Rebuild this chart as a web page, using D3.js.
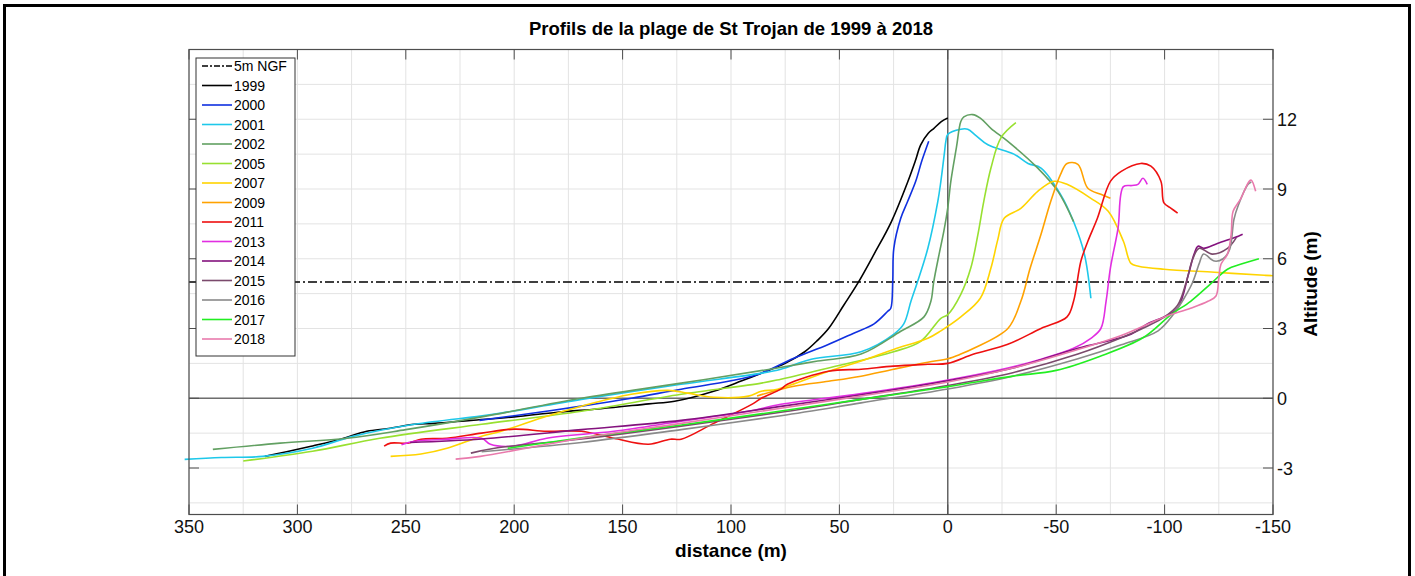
<!DOCTYPE html>
<html>
<head>
<meta charset="utf-8">
<script src="https://cdn.jsdelivr.net/npm/d3@7"></script>
<style>
  body { margin: 0; background: #fff; }
  svg { font-family: "Liberation Sans", Arial, sans-serif; }
  .grid-line { stroke: #e3e3e3; stroke-width: 1; }
  .tick-label { font-size: 18px; fill: #111; }
  .axis-title { font-size: 19px; font-weight: bold; fill: #000; }
  .chart-title { font-size: 18.5px; font-weight: bold; fill: #000; }
  .legend-text { font-size: 14px; fill: #000; }
</style>
</head>
<body>
<div id="wrapper"></div>
<script>
// data: [distance (m), altitude (m)]
const years = ["1999", "2000", "2001", "2002", "2005", "2007", "2009", "2011", "2013", "2014", "2015", "2016", "2017", "2018"]

const profile1999 = [[315,-2.5],[305,-2.3],[293,-2.05],[280,-1.76],[268,-1.42],[258,-1.3],[246,-1.12],[237,-1.08],[220,-0.95],[200,-0.8],[180,-0.6],[160,-0.45],[138,-0.24],[126,-0.13],[108,0.3],[95,0.75],[86,1.08],[75,1.5],[66,2.0],[60,2.5],[55,3.0],[48,4.0],[41.5,4.95],[34,6.2],[26,7.6],[18.5,9.3],[15,10.2],[12.5,10.9],[9,11.4],[6.5,11.6],[3,11.9],[0,12.05]]
const profile2000 = [[216,-0.95],[200,-0.75],[169,-0.34],[146,0.0],[123,0.39],[100,0.75],[86,1.08],[71,1.72],[55.4,2.3],[43.4,2.8],[34,3.2],[27.7,3.74],[26.3,3.87],[25.4,5.03],[24.9,6.45],[21.7,7.74],[18.5,8.47],[14.8,9.33],[12,10.2],[8.8,11.05]]
const profile2001 = [[352,-2.63],[335,-2.55],[316,-2.5],[293,-2.15],[274,-1.63],[246,-1.12],[215.6,-0.77],[206,-0.64],[169,-0.05],[123,0.6],[86,1.08],[77,1.25],[63,1.68],[40,2.0],[25,2.75],[20.3,3.2],[17,4.17],[14,5.0],[9.2,6.45],[4.6,8.47],[3.2,9.33],[1.5,10.6],[0.9,11.05],[0,11.35],[-6,11.57],[-9.2,11.57],[-13,11.3],[-18.5,10.9],[-30.5,10.5],[-37,10.1],[-43,9.9],[-52,8.77],[-58,7.6],[-63,6.2],[-66,4.3]]
const profile2002 = [[339,-2.2],[308,-1.93],[277,-1.72],[250,-1.35],[215,-0.8],[169,0.0],[123,0.65],[82,1.25],[60,1.6],[40,1.9],[21.7,2.88],[11,3.5],[7.8,4.17],[6.5,5.0],[4,6.2],[1.8,7.2],[0,8.2],[-1.4,9.33],[-4,10.8],[-6,11.9],[-7.4,12.1],[-11.5,12.2],[-15,12.05],[-20,11.6],[-27.7,11.05],[-41.5,9.9],[-50.8,8.9],[-58,7.6]]
const profile2005 = [[325,-2.7],[293,-2.28],[262,-1.72],[215,-1.12],[169,-0.56],[123,0.17],[86,0.65],[77,0.82],[55,1.3],[25,2.0],[12.5,2.45],[3.2,3.44],[0,3.6],[-6,4.47],[-10.6,5.6],[-13.9,7.05],[-16.6,8.47],[-19.9,9.9],[-24.5,11.2],[-31.4,11.85]]
const profile2007 = [[257,-2.5],[243,-2.4],[231,-2.15],[215,-1.63],[206,-1.42],[185,-0.77],[169,-0.34],[146,0.17],[129,0.34],[120,0.22],[108,0.04],[92,0.09],[86,0.3],[78.5,0.39],[55,1.16],[40,1.6],[25,2.1],[9.2,2.58],[3.2,2.9],[-6,3.5],[-15,4.3],[-19.9,5.6],[-23,6.8],[-26,7.74],[-33.7,8.17],[-41.5,8.9],[-49,9.33],[-55,9.2],[-66,8.6],[-74,8.04],[-81,6.75],[-84.5,5.8],[-88,5.68],[-99.7,5.55],[-123,5.42],[-146,5.29],[-150,5.27]]
const profile2009 = [[88,0.1],[71,0.52],[55,0.73],[40,0.95],[25,1.25],[9.2,1.55],[0,1.7],[-6,1.9],[-12,2.15],[-27.7,3.0],[-33.7,4.17],[-38,5.6],[-43,7.05],[-47.5,8.47],[-52,9.63],[-55,10.1],[-60,10.06],[-64.6,9.03],[-70.6,8.77],[-75,8.6]]
const profile2011 = [[260,-2.06],[257,-1.93],[249,-1.93],[243,-1.76],[231,-1.72],[215,-1.5],[200,-1.33],[185,-1.42],[169,-1.42],[154,-1.72],[138,-1.98],[128,-1.76],[123,-1.76],[108,-1.08],[89.6,-0.22],[86,0.0],[77,0.39],[74,0.6],[55,1.16],[40,1.25],[25,1.38],[9.2,1.46],[0,1.5],[-12,1.9],[-27.7,2.32],[-43,3.0],[-55,3.5],[-58,4.17],[-61.4,5.9],[-64.6,6.75],[-69,7.74],[-75,9.33],[-80,9.76],[-89,10.1],[-93.7,9.98],[-98.3,9.33],[-99.7,8.4],[-103,8.17],[-106,7.96]]
const profile2013 = [[252,-2.0],[246,-1.85],[231,-1.76],[215,-1.72],[211,-1.98],[200,-2.06],[185,-1.72],[154,-1.42],[123,-0.99],[92,-0.56],[77,-0.26],[40,0.2],[3.2,0.73],[-27.7,1.3],[-43,1.68],[-58,2.15],[-66,2.58],[-70.6,3.0],[-73,4.17],[-75,5.6],[-78.5,7.3],[-81,9.1],[-85,9.15],[-87.7,9.2],[-90,9.46],[-92,9.2]]
const profile2014 = [[248,-1.9],[215,-1.75],[169,-1.35],[123,-0.95],[77,-0.35],[40,0.15],[0,0.75],[-30,1.3],[-60,2.15],[-84.5,2.75],[-92,3.2],[-99.7,3.5],[-106,3.87],[-111,5.33],[-113.6,6.2],[-115.4,6.54],[-118,6.45],[-124.6,6.67],[-134,6.97],[-136,7.05]]
const profile2015 = [[220,-2.36],[209,-2.15],[169,-1.75],[123,-1.2],[77,-0.6],[40,-0.05],[0,0.55],[-30,1.1],[-60,1.9],[-80,2.6],[-92,3.1],[-100,3.5],[-106,4.0],[-110,5.0],[-113,6.0],[-116,6.45],[-122,6.2],[-129,6.45],[-133,6.9]]
const profile2016 = [[215,-2.3],[169,-1.9],[123,-1.35],[77,-0.75],[40,-0.2],[0,0.4],[-30,0.95],[-60,1.7],[-80,2.3],[-97,2.9],[-104,3.6],[-109,4.3],[-113,5.0],[-116,5.8],[-118,6.2],[-123,5.9],[-127,6.0],[-130,6.4],[-132,7.7],[-134,8.3],[-138.5,9.2],[-140,9.3]]
const profile2017 = [[203,-2.15],[169,-1.7],[123,-1.15],[77,-0.55],[40,-0.05],[0,0.5],[-30,0.95],[-50,1.2],[-70,1.8],[-90,2.6],[-103,3.6],[-112,4.17],[-121,4.9],[-129,5.55],[-135,5.76],[-143.5,6.0]]
const profile2018 = [[227,-2.62],[215.6,-2.5],[169,-1.72],[123,-1.08],[77,-0.43],[40,0.1],[0,0.7],[-30,1.3],[-60,2.1],[-80,2.7],[-100,3.5],[-112,3.87],[-120,4.17],[-123.7,4.4],[-125,5.16],[-126,5.76],[-129,6.2],[-130.7,7.05],[-131.6,8.04],[-135,8.56],[-139,9.33],[-140,9.38],[-142,8.9]]

const profiles = [profile1999, profile2000, profile2001, profile2002, profile2005, profile2007, profile2009, profile2011, profile2013, profile2014, profile2015, profile2016, profile2017, profile2018]
const yearColors = ["#000000", "#1030e0", "#1ec8ea", "#62a062", "#98e030", "#ffd400", "#ffa200", "#ee1010", "#e22ee2", "#84127e", "#7b4a6c", "#8a8a8a", "#22ee22", "#e97aac"]

const xDomain = [350, -150]
const yDomain = [-5, 15]
const xTicks = [350, 300, 250, 200, 150, 100, 50, 0, -50, -100, -150]
const yTicks = [-3, 0, 3, 6, 9, 12]
const ngfLevel = 5

// 1) Dimensions
const dimensions = {
  width: 1415,
  height: 576,
  margin: { top: 49.5, right: 142, bottom: 61.5, left: 189 },
}
dimensions.boundedWidth = dimensions.width - dimensions.margin.left - dimensions.margin.right
dimensions.boundedHeight = dimensions.height - dimensions.margin.top - dimensions.margin.bottom

// 2) Canvas
const wrapper = d3.select("#wrapper")
  .append("svg")
  .attr("width", dimensions.width)
  .attr("height", dimensions.height)

wrapper.append("rect")
  .attr("x", 4.5)
  .attr("y", 5.5)
  .attr("width", 1405)
  .attr("height", 575)
  .attr("fill", "none")
  .attr("stroke", "#000")
  .attr("stroke-width", 3)

const bounds = wrapper.append("g")
  .attr("transform", `translate(${dimensions.margin.left}, ${dimensions.margin.top})`)

// 3) Scales
const xScale = d3.scaleLinear().domain(xDomain).range([0, dimensions.boundedWidth])
const yScale = d3.scaleLinear().domain(yDomain).range([dimensions.boundedHeight, 0])

// 4) Grid
const gridX = d3.range(xDomain[1], xDomain[0] + 1, 25)
const gridY = d3.range(-4.5, 15, 1.5)

bounds.append("g")
  .selectAll("line")
  .data(gridX)
  .join("line")
  .attr("class", "grid-line")
  .attr("x1", (d) => xScale(d))
  .attr("x2", (d) => xScale(d))
  .attr("y1", 0)
  .attr("y2", dimensions.boundedHeight)

bounds.append("g")
  .selectAll("line")
  .data(gridY)
  .join("line")
  .attr("class", "grid-line")
  .attr("x1", 0)
  .attr("x2", dimensions.boundedWidth)
  .attr("y1", (d) => yScale(d))
  .attr("y2", (d) => yScale(d))

// zero lines
bounds.append("line")
  .attr("x1", 0).attr("x2", dimensions.boundedWidth)
  .attr("y1", yScale(0)).attr("y2", yScale(0))
  .attr("stroke", "#6e6e6e").attr("stroke-width", 1.3)

bounds.append("line")
  .attr("x1", xScale(0)).attr("x2", xScale(0))
  .attr("y1", 0).attr("y2", dimensions.boundedHeight)
  .attr("stroke", "#444").attr("stroke-width", 1.2)

// 5) Data
bounds.append("line")
  .attr("x1", xScale(xDomain[0])).attr("x2", xScale(xDomain[1]))
  .attr("y1", yScale(ngfLevel)).attr("y2", yScale(ngfLevel))
  .attr("stroke", "#000")
  .attr("stroke-width", 1.6)
  .attr("stroke-dasharray", "9,3,2,3")

const lineGenerator = d3.line()
  .x((d) => xScale(d[0]))
  .y((d) => yScale(d[1]))
  .curve(d3.curveCatmullRom.alpha(0.5))

bounds.append("g")
  .selectAll("path")
  .data(profiles)
  .join("path")
  .attr("d", (d) => lineGenerator(d))
  .attr("fill", "none")
  .attr("stroke", (d, i) => yearColors[i])
  .attr("stroke-width", 1.6)
  .attr("stroke-linejoin", "round")

// 6) Axes box, ticks inside, labels on bottom and right
const frame = bounds.append("g")
frame.append("rect")
  .attr("width", dimensions.boundedWidth)
  .attr("height", dimensions.boundedHeight)
  .attr("fill", "none")
  .attr("stroke", "#4d4d4d")
  .attr("stroke-width", 1.2)

const tickLength = 10
xTicks.forEach((t) => {
  frame.append("line")
    .attr("x1", xScale(t)).attr("x2", xScale(t))
    .attr("y1", dimensions.boundedHeight).attr("y2", dimensions.boundedHeight - tickLength)
    .attr("stroke", "#4d4d4d")
  frame.append("line")
    .attr("x1", xScale(t)).attr("x2", xScale(t))
    .attr("y1", 0).attr("y2", tickLength)
    .attr("stroke", "#4d4d4d")
  frame.append("text")
    .attr("class", "tick-label")
    .attr("x", xScale(t))
    .attr("y", dimensions.boundedHeight + 18)
    .attr("text-anchor", "middle")
    .text(t)
})

yTicks.forEach((t) => {
  frame.append("line")
    .attr("x1", dimensions.boundedWidth).attr("x2", dimensions.boundedWidth - tickLength)
    .attr("y1", yScale(t)).attr("y2", yScale(t))
    .attr("stroke", "#4d4d4d")
  frame.append("line")
    .attr("x1", 0).attr("x2", tickLength)
    .attr("y1", yScale(t)).attr("y2", yScale(t))
    .attr("stroke", "#4d4d4d")
  frame.append("text")
    .attr("class", "tick-label")
    .attr("x", dimensions.boundedWidth + 4)
    .attr("y", yScale(t) + 6.5)
    .attr("text-anchor", "start")
    .text(t)
})

// titles
wrapper.append("text")
  .attr("class", "chart-title")
  .attr("x", 731)
  .attr("y", 35)
  .attr("text-anchor", "middle")
  .text("Profils de la plage de St Trojan de 1999 à 2018")

wrapper.append("text")
  .attr("class", "axis-title")
  .attr("x", 731)
  .attr("y", 557)
  .attr("text-anchor", "middle")
  .text("distance (m)")

wrapper.append("text")
  .attr("class", "axis-title")
  .attr("transform", `translate(1317, 284) rotate(-90)`)
  .attr("text-anchor", "middle")
  .text("Altitude (m)")

// 7) Legend
const legend = wrapper.append("g").attr("transform", "translate(196, 58)")
const legendRow = 19.5
legend.append("rect")
  .attr("width", 99)
  .attr("height", 298)
  .attr("fill", "#fff")
  .attr("stroke", "#333")
  .attr("stroke-width", 1)

const legendItems = [{ label: "5m NGF", color: "#000", dash: "6,2,2,2" }]
  .concat(years.map((y, i) => ({ label: y, color: yearColors[i], dash: null })))

legendItems.forEach((item, i) => {
  const cy = 8 + legendRow * i
  legend.append("line")
    .attr("x1", 6).attr("x2", 36)
    .attr("y1", cy).attr("y2", cy)
    .attr("stroke", item.color)
    .attr("stroke-width", 1.6)
    .attr("stroke-dasharray", item.dash)
  legend.append("text")
    .attr("class", "legend-text")
    .attr("x", 38)
    .attr("y", cy + 5)
    .text(item.label)
})
</script>
</body>
</html>
